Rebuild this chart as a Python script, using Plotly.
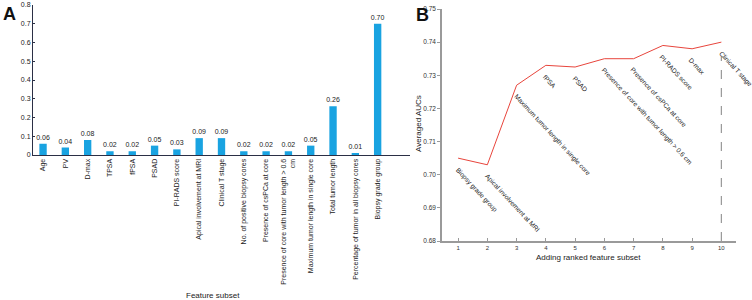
import plotly.graph_objects as go

# ---- Panel A data ----
features = ["Age", "PV", "D-max", "TPSA", "fPSA", "PSAD", "PI-RADS score",
            "Apical involvement at MRI", "Clinical T stage",
            "No. of positive biopsy cores", "Presence of csPCa at core",
            "Presence of core with tumor length &#62; 0.6<br>cm",
            "Maximum tumor length in single core", "Total tumor length",
            "Percentage of tumor in all biopsy cores", "Biopsy grade group"]
importance = [0.06, 0.04, 0.08, 0.02, 0.02, 0.05, 0.03, 0.09, 0.09,
              0.02, 0.02, 0.02, 0.05, 0.26, 0.01, 0.70]

# ---- Panel B data ----
steps = [1, 2, 3, 4, 5, 6, 7, 8, 9, 10]
auc = [0.705, 0.703, 0.727, 0.733, 0.7325, 0.735, 0.735, 0.739, 0.738, 0.740]
step_labels = ["Biopsy grade group", "Apical involvement at MRI",
               "Maximum tumor length in single core", "fPSA", "PSAD",
               "Presence of core with tumor length &#62; 0.6 cm",
               "Presence of csPCa at core", "PI-RADS score", "D-max",
               "Clinical T stage"]

FONT = "Arial, Liberation Sans, sans-serif"
W, H = 752, 300

fig = go.Figure()
fig.add_trace(go.Bar(
    x=list(range(len(features))), y=importance, width=0.33,
    marker=dict(color="#19A3E1", line=dict(width=0)),
    text=[f"{v:.2f}" for v in importance], textposition="outside",
    constraintext="none",
    textfont=dict(size=7, color="#222"), cliponaxis=False,
    xaxis="x", yaxis="y", showlegend=False))

fig.add_trace(go.Scatter(
    x=steps, y=auc, mode="lines", line=dict(color="#E8453C", width=1),
    xaxis="x2", yaxis="y2", showlegend=False))

# dashed reference line at the last step
fig.add_trace(go.Scatter(
    x=[steps[-1], steps[-1]], y=[0.68, auc[-1] - 0.0045], mode="lines",
    line=dict(color="#999999", width=1.2, dash="dash"),
    xaxis="x2", yaxis="y2", showlegend=False))

axA_col = "#2b2f45"
axB_col = "#9a9a9a"

fig.update_layout(
    width=W, height=H, margin=dict(l=0, r=0, t=0, b=0),
    paper_bgcolor="white", plot_bgcolor="white",
    font=dict(family=FONT, size=7, color="#222"),
    xaxis=dict(domain=[33 / W, 410 / W], range=[-0.45, 16.45],
               tickmode="array", tickvals=list(range(len(features))),
               ticktext=features, tickangle=-90,
               tickfont=dict(size=7, color="#222"),
               showline=True, linecolor=axA_col, linewidth=1,
               ticks="", showgrid=False, zeroline=False, automargin=False),
    yaxis=dict(domain=[1 - 155 / H, 1 - 5 / H], range=[0, 0.8],
               dtick=0.1, tickfont=dict(size=7, color="#222"),
               showline=True, linecolor=axA_col, linewidth=1,
               ticks="inside", ticklen=2, tickcolor=axA_col,
               showgrid=False, zeroline=False, automargin=False),
    xaxis2=dict(domain=[442 / W, 736 / W], range=[0.45, 10.5],
                anchor="y2", tickmode="array", tickvals=steps,
                tickfont=dict(size=6, color="#333"),
                showline=True, linecolor=axB_col, linewidth=1.5,
                ticks="inside", ticklen=3, tickcolor=axB_col,
                showgrid=False, zeroline=False, automargin=False),
    yaxis2=dict(domain=[1 - 241 / H, 1 - 9 / H], range=[0.68, 0.75],
                anchor="x2", dtick=0.01, tickformat=".2f",
                tickfont=dict(size=6.5, color="#333"),
                showline=True, linecolor=axB_col, linewidth=1.5,
                ticks="outside", ticklen=3, tickcolor=axB_col,
                showgrid=False, zeroline=False, automargin=False),
)

ann = []
ann.append(dict(text="<b>A</b>", x=1 / W, y=1 - 2 / H, xref="paper", yref="paper",
                xanchor="left", yanchor="top", showarrow=False,
                font=dict(size=18, color="#111")))
ann.append(dict(text="<b>B</b>", x=414 / W, y=1 - 3 / H, xref="paper", yref="paper",
                xanchor="left", yanchor="top", showarrow=False,
                font=dict(size=18, color="#111")))
ann.append(dict(text="Feature subset", x=213 / W, y=1 - 295 / H, xref="paper",
                yref="paper", xanchor="center", yanchor="middle", showarrow=False,
                font=dict(size=8, color="#222")))
ann.append(dict(text="Adding ranked feature subset", x=588 / W, y=1 - 257 / H,
                xref="paper", yref="paper", xanchor="center", yanchor="middle",
                showarrow=False, font=dict(size=8, color="#222")))
ann.append(dict(text="Averaged AUCs", x=418 / W, y=1 - 124 / H, xref="paper",
                yref="paper", xanchor="center", yanchor="middle", textangle=-90,
                showarrow=False, font=dict(size=8, color="#222")))
for s, a, lab in zip(steps, auc, step_labels):
    ann.append(dict(text=lab, x=s, y=a, xref="x2", yref="y2",
                    xanchor="left", yanchor="top", textangle=47,
                    xshift=-7, yshift=-5, showarrow=False,
                    font=dict(size=6.6, color="#222")))
fig.update_layout(annotations=ann)

fig.write_html("out.html", config={"displayModeBar": False},
               post_script="document.body.style.margin='0px';document.body.style.overflow='hidden';")
